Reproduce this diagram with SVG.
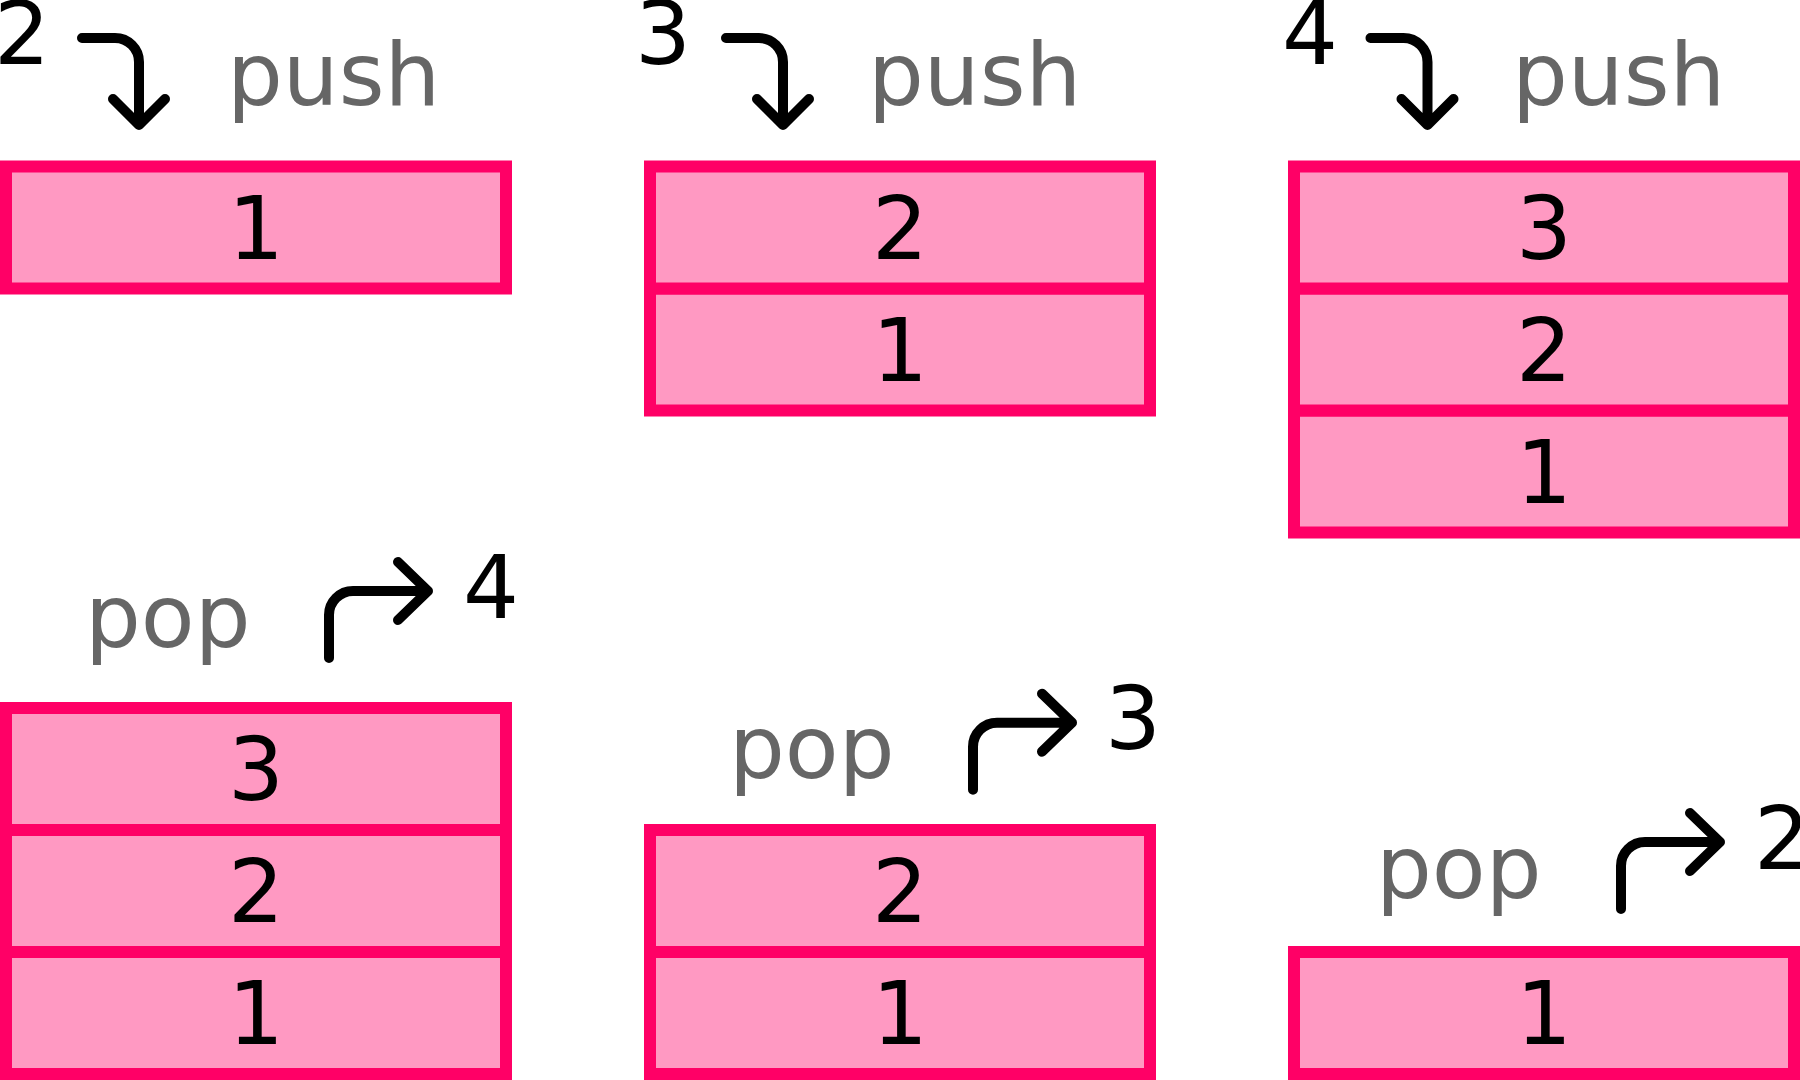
<svg xmlns="http://www.w3.org/2000/svg" width="1800" height="1080" viewBox="0 0 1800 1080">
<style>
.cell rect{fill:#ff99c2;stroke:#ff0066;stroke-width:12}
.cell text{font-family:"DejaVu Sans",sans-serif;font-size:88px;fill:#000;text-anchor:middle}
.num{font-family:"DejaVu Sans",sans-serif;font-size:88px;fill:#000}
.op{font-family:"DejaVu Sans",sans-serif;font-size:88px;fill:#666666}
.arrow{fill:none;stroke:#000;stroke-width:10;stroke-linecap:round;stroke-linejoin:round}
</style>
<defs>
<path id="pushArrow" d="M82 38H115A24 24 0 0 1 139 62V125M113 99L139 125L165 99"/>
<path id="popArrow" d="M329 658V615A24 24 0 0 1 353 591H428M398 562L428 591L398 620"/>
</defs>
<rect width="1800" height="1080" fill="#ffffff"/>

<g id="connectors" class="arrow">
<use href="#pushArrow"/>
<use href="#pushArrow" transform="translate(644,0)"/>
<use href="#pushArrow" transform="translate(1288.5,0)"/>
<use href="#popArrow"/>
<use href="#popArrow" transform="translate(644,131.7)"/>
<use href="#popArrow" transform="translate(1292,251)"/>
</g>

<g id="step1-labels">
<text class="num" x="-6" y="64">2</text>
<text class="op" x="227" y="105">push</text>
</g>
<g id="step1-cell1" class="cell"><rect x="6" y="166.5" width="500" height="122"/><text x="256" y="259">1</text></g>

<g id="step2-labels">
<text class="num" x="635" y="64">3</text>
<text class="op" x="868" y="105">push</text>
</g>
<g id="step2-cell1" class="cell"><rect x="650" y="288.5" width="500" height="122"/><text x="900" y="381">1</text></g>
<g id="step2-cell2" class="cell"><rect x="650" y="166.5" width="500" height="122"/><text x="900" y="259">2</text></g>

<g id="step3-labels">
<text class="num" x="1282" y="64">4</text>
<text class="op" x="1512" y="105">push</text>
</g>
<g id="step3-cell1" class="cell"><rect x="1294" y="410.5" width="500" height="122"/><text x="1544" y="503">1</text></g>
<g id="step3-cell2" class="cell"><rect x="1294" y="288.5" width="500" height="122"/><text x="1544" y="381">2</text></g>
<g id="step3-cell3" class="cell"><rect x="1294" y="166.5" width="500" height="122"/><text x="1544" y="259">3</text></g>

<g id="step4-labels">
<text class="op" x="85" y="647">pop</text>
<text class="num" x="463" y="618">4</text>
</g>
<g id="step4-cell1" class="cell"><rect x="6" y="952" width="500" height="122"/><text x="256" y="1044">1</text></g>
<g id="step4-cell2" class="cell"><rect x="6" y="830" width="500" height="122"/><text x="256" y="922">2</text></g>
<g id="step4-cell3" class="cell"><rect x="6" y="708" width="500" height="122"/><text x="256" y="800">3</text></g>

<g id="step5-labels">
<text class="op" x="729" y="778">pop</text>
<text class="num" x="1105" y="749">3</text>
</g>
<g id="step5-cell1" class="cell"><rect x="650" y="952" width="500" height="122"/><text x="900" y="1044">1</text></g>
<g id="step5-cell2" class="cell"><rect x="650" y="830" width="500" height="122"/><text x="900" y="922">2</text></g>

<g id="step6-labels">
<text class="op" x="1376" y="898">pop</text>
<text class="num" x="1754" y="869">2</text>
</g>
<g id="step6-cell1" class="cell"><rect x="1294" y="952" width="500" height="122"/><text x="1544" y="1044">1</text></g>
</svg>
